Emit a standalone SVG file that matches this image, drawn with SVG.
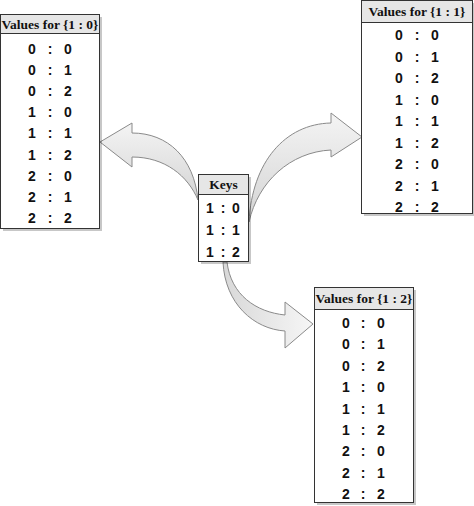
<svg xmlns="http://www.w3.org/2000/svg" width="474" height="506" viewBox="0 0 474 506">
<defs>
<linearGradient id="ag" x1="0" y1="0" x2="0" y2="1">
<stop offset="0" stop-color="#f4f4f4"/>
<stop offset="1" stop-color="#d4d4d4"/>
</linearGradient>
<linearGradient id="ag2" x1="0" y1="0" x2="1" y2="0">
<stop offset="0" stop-color="#d8d8d8"/>
<stop offset="1" stop-color="#f6f6f6"/>
</linearGradient>
</defs>
<style>
.box{fill:#fff;stroke:#333;stroke-width:1}
.hdr{fill:#e6e6e6;stroke:#333;stroke-width:1}
.sh{fill:#000;opacity:0.22}
.ht{font-family:"Liberation Serif","Times New Roman",serif;font-weight:bold;font-size:13.5px;text-anchor:middle;fill:#111}
.rt{font-family:"Liberation Sans",Arial,sans-serif;font-weight:bold;font-size:14px;text-anchor:middle;fill:#111}
.arr{stroke:#8a8a8a;stroke-width:1;stroke-linejoin:miter}
</style>
<rect width="474" height="506" fill="#fff"/>
<g id="connectors">
<path class="arr" fill="url(#ag)" d="M100,142 L132,123 L132,133 C168,133 194,158 198,200 C188,176 165,157 132,157 L132,167 Z"/>
<path class="arr" fill="url(#ag)" d="M362,137 L331,113 L331,123 C285,124 252,162 249,222 C258,182 290,152 331,150 L331,157 Z"/>
<path class="arr" fill="url(#ag2)" d="M313,324 L285,302 L285,315 C256,312 231,295 227,262 L223,262 C225,304 254,329 285,331 L285,348 Z"/>
</g>
<g id="values-1-0">
<rect class="sh" x="3" y="17" width="99" height="214"/>
<rect class="box" x="0.5" y="14.5" width="99" height="214"/>
<rect class="hdr" x="0.5" y="14.5" width="99" height="19"/>
<text class="ht" x="50" y="28.5">Values for {1 : 0}</text>
<text class="rt" x="32 41 50 59 68" y="54">0 : 0</text>
<text class="rt" x="32 41 50 59 68" y="75.1">0 : 1</text>
<text class="rt" x="32 41 50 59 68" y="96.2">0 : 2</text>
<text class="rt" x="32 41 50 59 68" y="117.3">1 : 0</text>
<text class="rt" x="32 41 50 59 68" y="138.4">1 : 1</text>
<text class="rt" x="32 41 50 59 68" y="159.5">1 : 2</text>
<text class="rt" x="32 41 50 59 68" y="180.6">2 : 0</text>
<text class="rt" x="32 41 50 59 68" y="201.7">2 : 1</text>
<text class="rt" x="32 41 50 59 68" y="222.8">2 : 2</text>
</g>
<g id="values-1-1">
<rect class="sh" x="364" y="3" width="112" height="213"/>
<rect class="box" x="361.5" y="0.5" width="111" height="213"/>
<rect class="hdr" x="361.5" y="0.5" width="111" height="22"/>
<text class="ht" x="417" y="16">Values for {1 : 1}</text>
<text class="rt" x="399 408 417 426 435" y="40">0 : 0</text>
<text class="rt" x="399 408 417 426 435" y="61.5">0 : 1</text>
<text class="rt" x="399 408 417 426 435" y="83">0 : 2</text>
<text class="rt" x="399 408 417 426 435" y="104.5">1 : 0</text>
<text class="rt" x="399 408 417 426 435" y="126">1 : 1</text>
<text class="rt" x="399 408 417 426 435" y="147.5">1 : 2</text>
<text class="rt" x="399 408 417 426 435" y="169">2 : 0</text>
<text class="rt" x="399 408 417 426 435" y="190.5">2 : 1</text>
<text class="rt" x="399 408 417 426 435" y="212">2 : 2</text>
</g>
<g id="keys">
<rect class="sh" x="201" y="177" width="50" height="87"/>
<rect class="box" x="198.5" y="174.5" width="50" height="87"/>
<rect class="hdr" x="198.5" y="174.5" width="50" height="20"/>
<text class="ht" x="223.5" y="189">Keys</text>
<text class="rt" x="210 216.5 223 229.5 236" y="213">1 : 0</text>
<text class="rt" x="210 216.5 223 229.5 236" y="235">1 : 1</text>
<text class="rt" x="210 216.5 223 229.5 236" y="257">1 : 2</text>
</g>
<g id="values-1-2">
<rect class="sh" x="317" y="290" width="99" height="215"/>
<rect class="box" x="314.5" y="287.5" width="99" height="215"/>
<rect class="hdr" x="314.5" y="287.5" width="99" height="22"/>
<text class="ht" x="364" y="303">Values for {1 : 2}</text>
<text class="rt" x="346 354.5 363 372 381" y="328">0 : 0</text>
<text class="rt" x="346 354.5 363 372 381" y="349.4">0 : 1</text>
<text class="rt" x="346 354.5 363 372 381" y="370.8">0 : 2</text>
<text class="rt" x="346 354.5 363 372 381" y="392.2">1 : 0</text>
<text class="rt" x="346 354.5 363 372 381" y="413.6">1 : 1</text>
<text class="rt" x="346 354.5 363 372 381" y="435">1 : 2</text>
<text class="rt" x="346 354.5 363 372 381" y="456.4">2 : 0</text>
<text class="rt" x="346 354.5 363 372 381" y="477.8">2 : 1</text>
<text class="rt" x="346 354.5 363 372 381" y="499.2">2 : 2</text>
</g>
</svg>
